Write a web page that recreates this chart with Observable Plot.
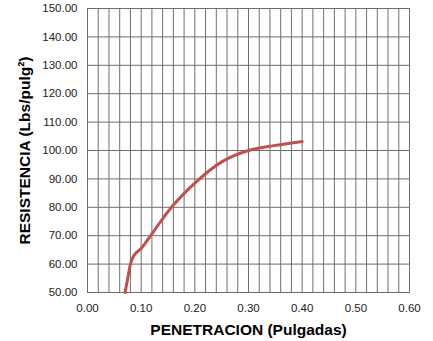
<!DOCTYPE html>
<html><head><meta charset="utf-8">
<script src="https://cdn.jsdelivr.net/npm/d3@7"></script>
<script src="https://cdn.jsdelivr.net/npm/@observablehq/plot@0.6"></script>
<style>
body{margin:0;background:#fff;}
svg text{font-family:"Liberation Sans",Arial,sans-serif;}
</style></head><body><div id="chart"></div>
<script>
const penetracion = [0.070, 0.075, 0.080, 0.085, 0.100, 0.125, 0.150, 0.200, 0.250, 0.300, 0.350, 0.400];
const resistencia = [50.0, 55.0, 60.0, 62.5, 65.5, 72.0, 78.5, 88.5, 96.0, 100.0, 101.8, 103.2];
const xTicks = [0.00, 0.10, 0.20, 0.30, 0.40, 0.50, 0.60];
const yTicks = [50, 60, 70, 80, 90, 100, 110, 120, 130, 140, 150];
const xGrid = [0, 0.02, 0.04, 0.06, 0.08, 0.10, 0.12, 0.14, 0.16, 0.18, 0.20, 0.22, 0.24, 0.26, 0.28, 0.30,
               0.32, 0.34, 0.36, 0.38, 0.40, 0.42, 0.44, 0.46, 0.48, 0.50, 0.52, 0.54, 0.56, 0.58, 0.60];
const xTitle = "PENETRACION (Pulgadas)";
const yTitle = "RESISTENCIA (Lbs/pulg²)";
const data = penetracion.map((x, i) => ({x, y: resistencia[i]}));
const fmt = d3.format(".2f");
const chart = Plot.plot({
  width: 433, height: 341,
  marginLeft: 87, marginRight: 24, marginTop: 8, marginBottom: 49,
  style: {fontFamily: "Liberation Sans, Arial, sans-serif", fontSize: "11.5px", background: "#fff", overflow: "visible", color: "#222"},
  x: {domain: [0, 0.6]},
  y: {domain: [50, 150]},
  marks: [
    Plot.ruleX(xGrid, {stroke: "#6e6e6e", strokeWidth: 1}),
    Plot.ruleY(yTicks, {stroke: "#6e6e6e", strokeWidth: 1}),
    Plot.frame({stroke: "#6e6e6e"}),
    Plot.axisX(xTicks, {tickSize: 0, tickPadding: 11, tickFormat: fmt, label: null}),
    Plot.axisY(yTicks, {tickSize: 0, tickPadding: 10, tickFormat: fmt, label: null}),
    Plot.line(data, {x: "x", y: "y", stroke: "#c0504d", strokeWidth: 3, curve: "monotone-x"}),
    Plot.text([xTitle], {frameAnchor: "bottom", dy: 42.5, fontWeight: "bold", fontSize: 15.5, lineAnchor: "bottom", fill: "#000"}),
    Plot.text([yTitle], {frameAnchor: "left", dx: -62.5, rotate: -90, textAnchor: "middle", fontWeight: "bold", fontSize: 15.5, lineAnchor: "middle", fill: "#000"})
  ]
});
document.getElementById("chart").appendChild(chart);
</script></body></html>
